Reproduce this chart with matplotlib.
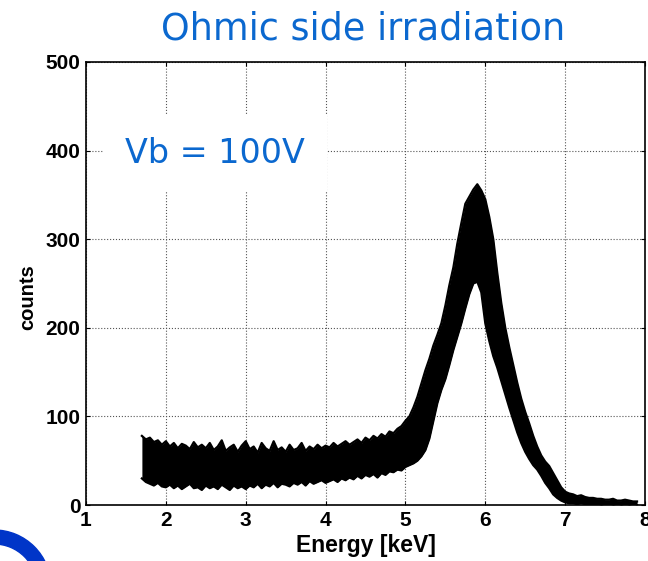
import numpy as np
import matplotlib
matplotlib.use("Agg")
import matplotlib.pyplot as plt
from matplotlib.patches import Wedge
from matplotlib.transforms import IdentityTransform

# energy grid of the overlaid spectra [keV]
energy = np.round(1.70 + 0.05 * np.arange(125), 2)

# upper edge of the bundle of spectra (counts)
upper = [78, 74, 76, 71, 73, 68, 72,
         66, 70, 64, 69, 67, 63, 71, 65, 68, 64,
         70, 62, 66, 73, 61, 65, 68, 60, 67, 72,
         63, 66, 59, 70, 64, 61, 72, 62, 65, 60,
         68, 62, 64, 70, 61, 66, 63, 68, 64, 67,
         65, 70, 66, 69, 72, 68, 71, 74, 70, 76,
         73, 78, 75, 80, 77, 83, 81, 86, 89, 95,
         100, 110, 122, 137, 152, 165, 180, 192, 205, 225,
         248, 268, 295, 318, 340, 348, 356, 362, 355, 345,
         325, 300, 262, 228, 200, 178, 158, 138, 120, 105,
         92, 78, 66, 56, 49, 44, 36, 28, 20, 15,
         13, 12, 10, 11, 9, 8, 8, 7, 7, 6,
         6, 7, 5, 5, 6, 5, 4, 4]

# lower edge of the bundle of spectra (counts)
lower = [30, 26, 24, 22, 25, 21, 20,
         23, 19, 22, 18, 21, 24, 19, 20, 17, 22,
         19, 21, 18, 23, 20, 17, 22, 19, 21, 18,
         22, 20, 24, 19, 23, 21, 25, 20, 24, 23,
         21, 25, 23, 26, 22, 27, 24, 26, 28, 25,
         27, 29, 26, 30, 28, 31, 29, 33, 30, 34,
         32, 35, 31, 36, 34, 38, 37, 40, 39, 43,
         45, 47, 50, 55, 62, 75, 95, 115, 130, 142,
         158, 175, 190, 205, 222, 238, 250, 252, 240, 205,
         185, 168, 155, 140, 125, 110, 96, 82, 70, 60,
         52, 45, 40, 33, 25, 19, 12, 8, 5, 3,
         2, 2, 1, 2, 1, 1, 1, 1, 0, 1,
         1, 0, 1, 0, 1, 0, 1, 0]

xticks = [1, 2, 3, 4, 5, 6, 7, 8]
yticks = [0, 100, 200, 300, 400, 500]

blue = '#0b68cf'

fig = plt.figure(figsize=(6.48, 5.61), dpi=100)
ax = fig.add_axes([0.1327, 0.0998, 0.8627, 0.7897])

ax.fill_between(energy, lower, upper, color='black', lw=0, zorder=3)
ax.plot(energy, upper, color='black', lw=1.6, zorder=3)
ax.plot(energy, lower, color='black', lw=1.6, zorder=3)

ax.set_xlim(1, 8)
ax.set_ylim(0, 500)
ax.set_xticks(xticks)
ax.set_yticks(yticks)
ax.grid(True, color='#555555', linestyle=':', linewidth=0.8)
ax.set_axisbelow(True)
ax.tick_params(direction='in', length=3, top=True, right=True, pad=4,
               labelsize=15)
for lab in ax.get_xticklabels() + ax.get_yticklabels():
    lab.set_fontfamily('Liberation Sans')
    lab.set_fontweight('bold')
for sp in ax.spines.values():
    sp.set_linewidth(1.2)

ax.set_xlabel('Energy [keV]', fontsize=16.5, fontweight='bold',
              family='Liberation Sans', labelpad=3)
ax.set_ylabel('counts', fontsize=14.5, fontweight='bold',
              family='Liberation Sans')
ax.yaxis.set_label_coords(-0.088, 0.47)

ax.text(1.49, 386, 'Vb = 100V', fontsize=24, color=blue, va='baseline',
        zorder=5, bbox=dict(facecolor='white', edgecolor='none', pad=16))

fig.text(0.560, 0.929, 'Ohmic side irradiation', fontsize=26.4, color=blue,
         ha='center', va='baseline')

# piece of the blue logo ring in the lower left corner
ring = Wedge((-6, -26), 57, 0, 360, width=14, color='#0035c8',
             transform=IdentityTransform())
fig.add_artist(ring)

fig.savefig('out.png', dpi=100)
